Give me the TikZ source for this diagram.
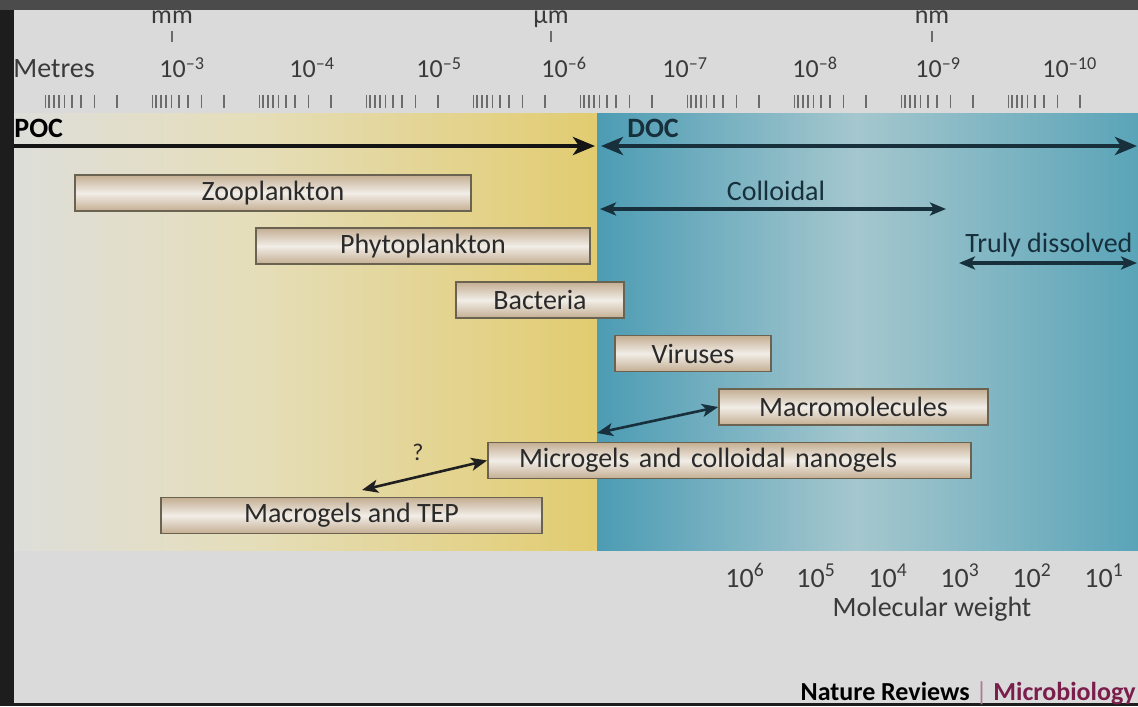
\documentclass[tikz,border=0pt]{standalone}
\usepackage{fontspec}
\setmainfont{Carlito}
\usetikzlibrary{arrows.meta,positioning,calc}

\definecolor{framedark}{HTML}{1D1D1D}
\definecolor{frametop}{HTML}{4B4B4B}
\definecolor{paper}{HTML}{DADADA}
\definecolor{poclight}{HTML}{DEDEDA}
\definecolor{pocmid}{HTML}{E5DEBB}
\definecolor{pocyellow}{HTML}{E2CC70}
\definecolor{docdark}{HTML}{4C9CB4}
\definecolor{doclight}{HTML}{A5C7CE}
\definecolor{docright}{HTML}{5AA4B8}
\definecolor{boxtan}{HTML}{C4AE92}
\definecolor{boxlight}{HTML}{F1EDE7}
\definecolor{boxedge}{HTML}{6A6352}
\definecolor{boxink}{HTML}{2A2A2A}
\definecolor{scaleink}{HTML}{3A3A3A}
\definecolor{tickgray}{HTML}{6C6C6C}
\definecolor{docink}{HTML}{17303C}
\definecolor{microred}{HTML}{7A1E4C}

\pgfdeclarehorizontalshading{pocshade}{100bp}{color(0bp)=(poclight); color(25bp)=(poclight);
  color(45bp)=(pocmid); color(66bp)=(pocyellow!70!pocmid); color(75bp)=(pocyellow); color(100bp)=(pocyellow)}
\pgfdeclarehorizontalshading{docshade}{100bp}{color(0bp)=(docdark); color(25bp)=(docdark);
  color(49bp)=(doclight); color(75bp)=(docright); color(100bp)=(docright)}

\begin{document}
\begin{tikzpicture}[x=0.5pt,y=-0.5pt,
    organism/.style={
        draw=boxedge, line width=0.9pt, inner sep=0pt,
        top color=boxtan, bottom color=boxtan, middle color=boxlight,
        minimum height=18pt, font=\fontsize{14}{16}\selectfont, text=boxink
    },
    scalelabel/.style={font=\fontsize{13}{15}\selectfont, text=scaleink, inner sep=0pt},
    tickmark/.style={draw=tickgray, line width=0.9pt},
    sizebar/.style={line width=2pt, >={Stealth[length=11pt,width=9pt,inset=3pt]}},
    linkbar/.style={line width=1.3pt, >={Stealth[length=8pt,width=6.5pt,inset=2pt]}}
]
\useasboundingbox (0,0) rectangle (1138,706);

% frame and paper
\fill[framedark] (0,0) rectangle (1138,706);
\fill[frametop] (0,0) rectangle (1138,10);
\fill[paper] (14,10) rectangle (1138,703);

% size classes
\shade[shading=pocshade] (14,113) rectangle (597,550);
\shade[shading=docshade] (597,113) rectangle (1138,550);

% metre scale
\node[scalelabel, anchor=base] (mm) at (172,24) {mm};
\node[scalelabel, anchor=base] (um) at (551,24) {µm};
\node[scalelabel, anchor=base] (nm) at (932,24) {nm};
\draw[tickmark, line width=0.6pt] (172,31) -- (172,42);
\draw[tickmark, line width=0.6pt] (551,31) -- (551,42);
\draw[tickmark, line width=0.6pt] (932,31) -- (932,42);

\node[scalelabel, anchor=base west, font=\fontsize{14}{16}\selectfont] (metres) at (13,78) {Metres};
\foreach \e/\x in {3/159,4/289,5/416,6/541,7/662,8/792,9/915,10/1042}
    \node[scalelabel, anchor=base west] (dec\e) at (\x,78) {10\textsuperscript{–\e}};

\foreach \g in {0,...,9}
    \foreach \m in {1,...,9}
        \draw[tickmark] ({42+107*\g+75*(1-log10(\m))},95) -- ++(0,13);

% POC / DOC
\node[anchor=base west, inner sep=0pt, font=\bfseries\fontsize{14}{16}\selectfont] (poc) at (14,137) {POC};
\node[anchor=base west, inner sep=0pt, text=docink, font=\bfseries\fontsize{14}{16}\selectfont] (doc) at (627,137) {DOC};
\coordinate (pocL) at (14,146);
\coordinate (pocR) at (595,146);
\coordinate (docL) at (601,146);
\coordinate (docR) at (1137,146);
\draw[sizebar, ->, draw=black!92] (pocL) -- (pocR);
\draw[sizebar, <->, draw=docink] (docL) -- (docR);

\node[anchor=base, inner sep=0pt, text=docink, font=\fontsize{14}{16}\selectfont] (colloidal) at (776,200) {Colloidal};
\coordinate (colL) at (600,209);
\coordinate (colR) at (946,209);
\draw[linkbar, <->, draw=docink, line width=1.6pt] (colL) -- (colR);

\node[anchor=base west, inner sep=0pt, text=docink, font=\fontsize{14}{16}\selectfont] (truly) at (965,252) {Truly dissolved};
\coordinate (truL) at (959,263);
\coordinate (truR) at (1137,263);
\draw[linkbar, <->, draw=docink, line width=1.6pt] (truL) -- (truR);

% organisms and gels
\node[organism, minimum width=198pt]   (zoo)    at (273,193)   {Zooplankton};
\node[organism, minimum width=167pt]   (phyto)  at (423,246)   {Phytoplankton};
\node[organism, minimum width=84pt]    (bact)   at (540,300)   {Bacteria};
\node[organism, minimum width=78pt]    (virus)  at (693,353.5) {Viruses};
\node[organism, minimum width=134.5pt] (macro)  at (853.5,407) {Macromolecules};
\node[organism, text width=210.5pt, inner xsep=15.5pt, align=left] (micro) at (729.5,460.5) {Microgels and colloidal nanogels};
\node[organism, minimum width=190.5pt] (tep)    at (351.5,515.5) {Macrogels and TEP};

\coordinate (border) at (597,433);
\coordinate (tepq) at (362,490);
\draw[linkbar, <->, draw=docink] (border) -- (macro.west);
\draw[linkbar, <->, draw=black!88] (micro.west) -- (tepq);
\node[inner sep=0pt, font=\fontsize{12}{14}\selectfont, text=boxink] (query) at (418,452) {?};

% molecular weight
\foreach \e/\x in {6/725,5/796,4/868,3/940,2/1012,1/1084}
    \node[scalelabel, anchor=base west, font=\fontsize{14}{16}\selectfont] (mw\e) at (\x,587) {10\textsuperscript{\e}};
\node[scalelabel, anchor=base, font=\fontsize{14}{16}\selectfont] (mw) at (932,616) {Molecular weight};

\node[anchor=base east, inner sep=0pt, font=\bfseries\fontsize{13}{15}\selectfont] (journal) at (1136,700)
    {Nature Reviews {\color{microred!60}\mdseries|} \color{microred}Microbiology};
\end{tikzpicture}
\end{document}
